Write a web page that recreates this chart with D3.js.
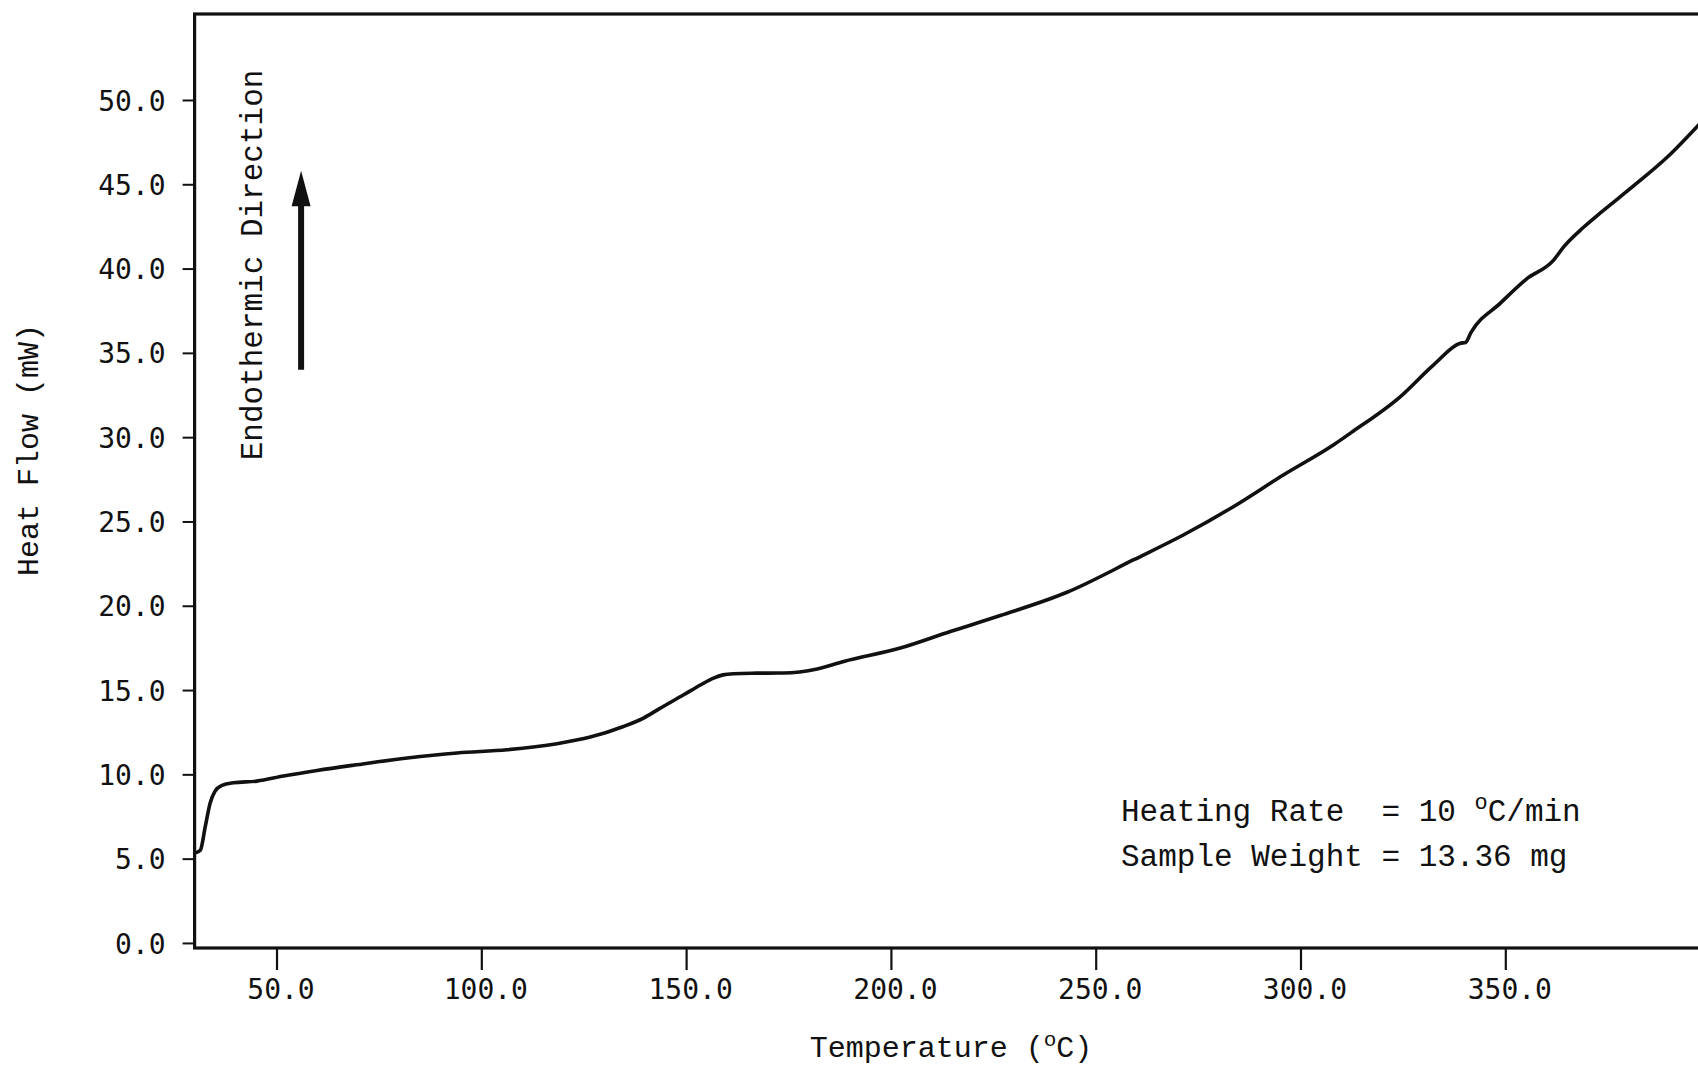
<!DOCTYPE html>
<html>
<head>
<meta charset="utf-8">
<script src="https://cdn.jsdelivr.net/npm/d3@7"></script>
<style>
  html, body { margin: 0; padding: 0; background: #fff; overflow: hidden; }
  svg { display: block; }
  .tick-label { font-family: "DejaVu Sans Mono", monospace; font-size: 28px; fill: #111; }
  .mono { font-family: "Liberation Mono", "Courier New", monospace; fill: #111; }
</style>
</head>
<body>
<svg id="chart" width="1698" height="1067"></svg>
<script>
// DSC scan: heat flow vs temperature
const temperature = [30.2, 31.4, 32.6, 33.8, 35.0, 36.7, 39.5, 45.2, 51.7, 59.9,
  69.6, 81.9, 94.1, 106.3, 118.5, 126.6, 134.7, 139.6, 143.5, 149.4,
  153.5, 156.7, 159.0, 161.6, 166.0, 173.8, 182.0, 188.5, 202.3, 214.5,
  226.7, 243.0, 259.3, 271.5, 283.7, 295.9, 308.1, 312.2, 324.4, 332.5,
  339.0, 340.3, 341.6, 348.8, 355.0, 361.8, 364.3, 369.1, 373.2,
  381.3, 389.5, 397.5];
const heatFlow = [5.35, 5.5, 6.9, 8.3, 9.0, 9.35, 9.5, 9.6, 9.9, 10.23,
  10.57, 10.97, 11.27, 11.46, 11.82, 12.21, 12.84, 13.34, 13.9, 14.72,
  15.3, 15.71, 15.9, 15.97, 16.0, 16.01, 16.25, 16.7, 17.49, 18.47,
  19.42, 20.8, 22.73, 24.21, 25.89, 27.77, 29.55, 30.24, 32.41, 34.29,
  35.57, 35.62, 36.2, 37.95, 39.35, 40.5, 41.3, 42.45, 43.3,
  44.9, 46.6, 48.6];

const xTicks = [50, 100, 150, 200, 250, 300, 350];
const yTicks = [0, 5, 10, 15, 20, 25, 30, 35, 40, 45, 50];
const xDomain = [30, 400];
const yDomain = [-0.3, 55.1];

const svg = d3.select("#chart");

const x = d3.scaleLinear().domain(xDomain).range([194.6, 1710.1]);
const y = d3.scaleLinear().domain(yDomain).range([948, 14]);
const fmt = d3.format(".1f");

// plot frame
svg.append("rect")
  .attr("x", x(xDomain[0]))
  .attr("y", y(yDomain[1]))
  .attr("width", x(xDomain[1]) - x(xDomain[0]))
  .attr("height", y(yDomain[0]) - y(yDomain[1]))
  .attr("fill", "none")
  .attr("stroke", "#111")
  .attr("stroke-width", 3.2);

// y axis
const yAxis = svg.append("g")
  .attr("transform", `translate(${x(xDomain[0])},0)`)
  .call(d3.axisLeft(y).tickValues(yTicks).tickFormat(fmt).tickSize(12).tickPadding(17));
yAxis.select(".domain").remove();
yAxis.selectAll(".tick line").attr("stroke", "#111").attr("stroke-width", 2);
yAxis.selectAll(".tick text")
  .attr("class", "tick-label")
  .attr("font-family", null).attr("font-size", null)
  .attr("dy", "0.36em");

// x axis
const xAxis = svg.append("g")
  .attr("transform", `translate(0,${y(yDomain[0])})`)
  .call(d3.axisBottom(x).tickValues(xTicks).tickFormat(fmt).tickSize(22));
xAxis.select(".domain").remove();
xAxis.selectAll(".tick line").attr("stroke", "#111").attr("stroke-width", 2.2);
xAxis.selectAll(".tick text")
  .attr("class", "tick-label")
  .attr("font-family", null).attr("font-size", null)
  .attr("x", 4)
  .attr("y", 51)
  .attr("dy", 0);

// heat flow trace
const line = d3.line()
  .x((d, i) => x(temperature[i]))
  .y(d => y(d))
  .curve(d3.curveMonotoneX);

svg.append("path")
  .datum(heatFlow)
  .attr("d", line)
  .attr("fill", "none")
  .attr("stroke", "#111")
  .attr("stroke-width", 3.6)
  .attr("stroke-linejoin", "round")
  .attr("stroke-linecap", "round");

// axis titles
svg.append("text")
  .attr("class", "mono")
  .attr("transform", "translate(38,450) rotate(-90)")
  .attr("text-anchor", "middle")
  .attr("font-size", 30)
  .text("Heat Flow (mW)");

const xt = svg.append("text")
  .attr("class", "mono")
  .attr("x", 951)
  .attr("y", 1057)
  .attr("text-anchor", "middle")
  .attr("font-size", 30);
xt.append("tspan").text("Temperature (");
xt.append("tspan").attr("font-size", 21).attr("dy", -11).text("o");
xt.append("tspan").attr("dy", 11).text("C)");

// endothermic direction marker
svg.append("text")
  .attr("class", "mono")
  .attr("transform", "translate(262,265) rotate(-90)")
  .attr("text-anchor", "middle")
  .attr("font-size", 31)
  .text("Endothermic Direction");

const ax = x(56);
svg.append("line")
  .attr("x1", ax).attr("x2", ax)
  .attr("y1", y(34.0)).attr("y2", y(43.8))
  .attr("stroke", "#111")
  .attr("stroke-width", 6);
svg.append("path")
  .attr("d", d3.line()([[ax, y(45.8)], [ax - 9.5, y(43.7)], [ax + 9.5, y(43.7)]]) + "Z")
  .attr("fill", "#111");

// run conditions
const note = svg.append("g").attr("class", "mono").attr("font-size", 31);
const n1 = note.append("text").attr("x", 1121).attr("y", 821).attr("xml:space", "preserve");
n1.append("tspan").text("Heating Rate  = 10 ");
n1.append("tspan").attr("font-size", 22).attr("dy", -12).text("o");
n1.append("tspan").attr("dy", 12).text("C/min");
note.append("text").attr("x", 1121).attr("y", 866).attr("xml:space", "preserve")
  .text("Sample Weight = 13.36 mg");
</script>
</body>
</html>
